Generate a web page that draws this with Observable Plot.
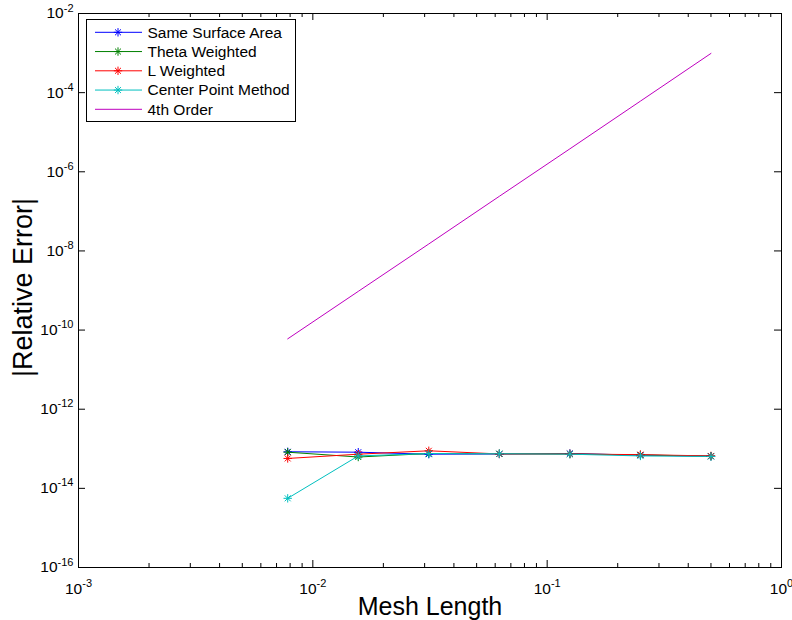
<!DOCTYPE html>
<html><head><meta charset="utf-8">
<script src="https://cdn.jsdelivr.net/npm/d3@7"></script>
<script src="https://cdn.jsdelivr.net/npm/@observablehq/plot@0.6"></script>
<style>
body{margin:0;background:#fff;}
#wrap{position:relative;width:792px;height:620px;font-family:"Liberation Sans",Arial,sans-serif;}
#legend{position:absolute;left:86px;top:19px;}
</style></head><body><div id="wrap"></div>
<script>
const meshLength = [0.0078125, 0.015625, 0.03125, 0.0625, 0.125, 0.25, 0.5];
const sameSurfaceArea = [8.4e-14, 8.2e-14, 7.3e-14, 7.4e-14, 7.6e-14, 6.9e-14, 6.5e-14];
const thetaWeighted   = [8.2e-14, 6.2e-14, 7.6e-14, 7.5e-14, 7.4e-14, 7.0e-14, 6.5e-14];
const lWeighted       = [5.7e-14, 7.3e-14, 8.9e-14, 7.4e-14, 7.4e-14, 7.1e-14, 6.6e-14];
const centerPoint     = [5.6e-15, 6.6e-14, 7.6e-14, 7.5e-14, 7.3e-14, 6.6e-14, 6.4e-14];
const fourthOrder     = [6.0e-11, 9.5e-10, 1.5e-8, 2.4e-7, 3.8e-6, 6.1e-5, 9.8e-4];
const seriesNames  = ["Same Surface Area", "Theta Weighted", "L Weighted", "Center Point Method", "4th Order"];
const seriesColors = ["#0000ff", "#008000", "#ff0000", "#00bfbf", "#bf00bf"];
const seriesMarker = [true, true, true, true, false];
const seriesValues = [sameSurfaceArea, thetaWeighted, lWeighted, centerPoint, fourthOrder];
const xMajorTicks = [1e-3, 1e-2, 1e-1, 1];
const xMinorTicks = [0.002,0.003,0.004,0.005,0.006,0.007,0.008,0.009,
                     0.02,0.03,0.04,0.05,0.06,0.07,0.08,0.09,
                     0.2,0.3,0.4,0.5,0.6,0.7,0.8,0.9];
const yTicks = [1e-16, 1e-14, 1e-12, 1e-10, 1e-8, 1e-6, 1e-4, 1e-2];
const xTitle = "Mesh Length";
const yTitle = "|Relative Error|";

const W = 792, H = 620, ML = 78, MR = 11, MT = 13, MB = 53;
const PW = W - ML - MR, PH = H - MT - MB;
const majorLen = 7, minorLen = 4;

const rows = [];
seriesValues.forEach((vals, s) => vals.forEach((v, i) => rows.push({series: seriesNames[s], x: meshLength[i], y: v, marker: seriesMarker[s]})));

const asterisk = {
  draw(ctx, size) {
    const r = Math.sqrt(size / Math.PI), d = r * Math.SQRT1_2;
    ctx.moveTo(-r, 0); ctx.lineTo(r, 0);
    ctx.moveTo(0, -r); ctx.lineTo(0, r);
    ctx.moveTo(-d, -d); ctx.lineTo(d, d);
    ctx.moveTo(-d, d); ctx.lineTo(d, -d);
  }
};
const fmt = d => "10^" + Math.round(Math.log10(d));
const ident = d => d;

const chart = Plot.plot({
  width: W, height: H,
  marginLeft: ML, marginRight: MR, marginTop: MT, marginBottom: MB,
  style: {fontFamily: "'Liberation Sans', Arial, sans-serif", fontSize: "15px", color: "black", background: "white"},
  x: {type: "log", domain: [1e-3, 1]},
  y: {type: "log", domain: [1e-16, 1e-2]},
  color: {domain: seriesNames, range: seriesColors},
  marks: [
    ...seriesNames.map(name => Plot.line(rows.filter(r => r.series === name), {x: "x", y: "y", stroke: "series", strokeWidth: 1})),
    ...seriesNames.map(name => Plot.dot(rows.filter(r => r.series === name && r.marker), {x: "x", y: "y", stroke: "series", symbol: asterisk, r: 4.2, strokeWidth: 1})),
    Plot.frame({stroke: "black", strokeWidth: 1}),
    Plot.tickX(xMajorTicks, {x: ident, insetTop: PH - majorLen, stroke: "black"}),
    Plot.tickX(xMajorTicks, {x: ident, insetBottom: PH - majorLen, stroke: "black"}),
    Plot.tickX(xMinorTicks, {x: ident, insetTop: PH - minorLen, stroke: "black"}),
    Plot.tickX(xMinorTicks, {x: ident, insetBottom: PH - minorLen, stroke: "black"}),
    Plot.tickY(yTicks, {y: ident, insetRight: PW - majorLen, stroke: "black"}),
    Plot.tickY(yTicks, {y: ident, insetLeft: PW - majorLen, stroke: "black"}),
    Plot.axisX(xMajorTicks, {anchor: "bottom", tickSize: 0, tickPadding: 15, tickFormat: fmt, label: null}),
    Plot.axisY(yTicks, {anchor: "left", tickSize: 0, tickPadding: 5, tickFormat: fmt, label: null}),
    Plot.text([xTitle], {frameAnchor: "bottom", dy: 29.5, text: ident, fontSize: 25, lineAnchor: "top", textAnchor: "middle", fill: "black"}),
    Plot.text([yTitle], {frameAnchor: "left", dx: -55, dy: -3, rotate: -90, text: ident, fontSize: 27, textAnchor: "middle", fill: "black"})
  ]
});

chart.querySelectorAll("text").forEach(t => {
  const m = /^10\^(-?\d+)$/.exec(t.textContent);
  if (!m) return;
  t.textContent = "10";
  t.setAttribute("font-size", "15.5");
  const sp = document.createElementNS("http://www.w3.org/2000/svg", "tspan");
  sp.setAttribute("font-size", "11");
  sp.setAttribute("dy", "-0.62em");
  sp.textContent = m[1];
  t.appendChild(sp);
});

const wrap = document.getElementById("wrap");
wrap.appendChild(chart);

// Legend
const lw = 210, lh = 103, rowStart = 13.3, rowStep = 19.25;
const leg = d3.select(wrap).append("svg").attr("id", "legend").attr("width", lw).attr("height", lh)
  .style("font-family", "'Liberation Sans', Arial, sans-serif");
leg.append("rect").attr("x", 0.5).attr("y", 0.5).attr("width", lw - 1).attr("height", lh - 1)
  .attr("fill", "white").attr("stroke", "black").attr("stroke-width", 1);
seriesNames.forEach((name, i) => {
  const cy = rowStart + i * rowStep;
  const g = leg.append("g");
  g.append("line").attr("x1", 9).attr("x2", 56).attr("y1", cy).attr("y2", cy)
    .attr("stroke", seriesColors[i]).attr("stroke-width", 1);
  if (seriesMarker[i]) {
    g.append("path").attr("d", d3.symbol(asterisk, Math.PI * 4.2 * 4.2)()).attr("transform", `translate(32,${cy})`)
      .attr("stroke", seriesColors[i]).attr("fill", "none").attr("stroke-width", 1);
  }
  g.append("text").attr("x", 61.5).attr("y", cy).attr("dy", "0.35em").attr("font-size", 15.5).attr("fill", "black").text(name);
});
</script></body></html>
